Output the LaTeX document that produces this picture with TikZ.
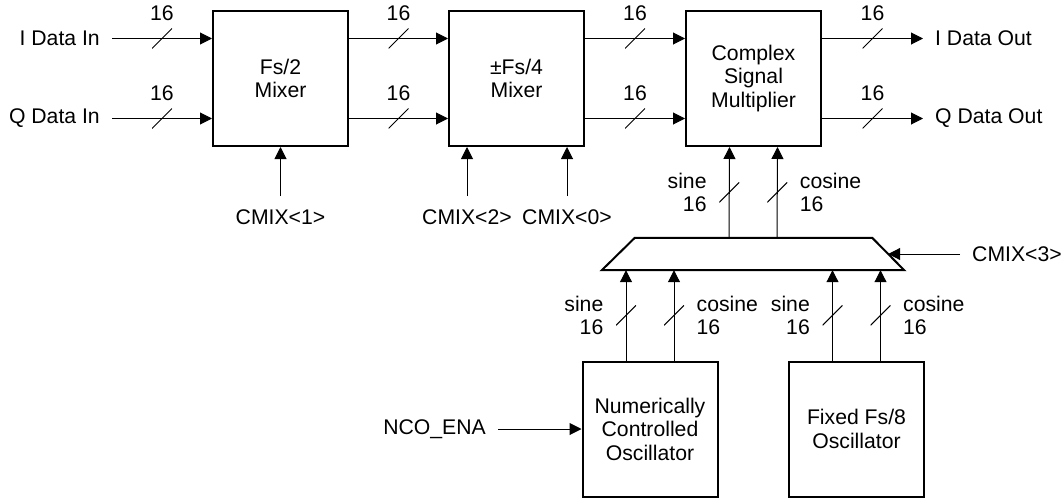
\documentclass[tikz,border=0pt]{standalone}
\usepackage{fontspec}
\setmainfont{Liberation Sans}
\usetikzlibrary{
  arrows.meta,
  positioning,
  calc
}

\begin{document}
\begin{tikzpicture}[
      x=1pt, y=-1pt,
      every node/.style={font=\fontsize{21.2}{23.5}\selectfont},
      bloco/.style={draw, line width=2pt, minimum width=135pt, minimum height=135pt, align=center, inner sep=0pt},
      caixa/.style={minimum width=302pt, minimum height=32pt, inner sep=0pt},
      borda/.style={line width=2pt},
      seta/.style={-{Triangle[length=12pt,width=12pt]}, line width=1pt},
      barra/.style={minimum size=20pt, inner sep=0pt, path picture={\draw[-, line width=1pt] (path picture bounding box.south west) -- (path picture bounding box.north east);}},
      rotulo/.style={inner sep=0pt}
  ]
      \useasboundingbox (0,0) rectangle (1063,498);

      % Blocos principais
      \node[bloco] (mix1) at (280.5,78.5) {Fs/2\\Mixer};
      \node[bloco] (mix2) at (516.5,78.5) {±Fs/4\\Mixer};
      \node[bloco] (csm) at (753.5,78.5) {Complex\\Signal\\Multiplier};
      \node[caixa] (sel) at (753,254) {};
      \draw[borda] (sel.south west) -- ([xshift=33pt]sel.north west) -- ([xshift=-32pt]sel.north east) -- (sel.south east) -- cycle;
      \node[bloco] (nco) at (650,429) {Numerically\\Controlled\\Oscillator};
      \node[bloco] (fix) at (856.5,429) {Fixed Fs/8\\Oscillator};

      % Pontas livres
      \coordinate (iin) at (112,38.5);
      \coordinate (qin) at (112,118.5);
      \coordinate (iout) at (923,38.5);
      \coordinate (qout) at (923,118.5);
      \coordinate (c1) at (280.5,196);
      \coordinate (c2) at (467,196);
      \coordinate (c0) at (567,196);
      \coordinate (c3) at (960,254);
      \coordinate (ena) at (498,429);

      \node[rotulo, left=12pt of iin] {I Data In};
      \node[rotulo, left=12pt of qin] {Q Data In};
      \node[rotulo, right=12pt of iout] {I Data Out};
      \node[rotulo, right=12pt of qout] {Q Data Out};
      \node[rotulo, below=13.5pt of c1] {CMIX<1>};
      \node[rotulo, below=13.5pt of c2] {CMIX<2>};
      \node[rotulo, below=13.5pt of c0] {CMIX<0>};
      \node[rotulo, right=12pt of c3] {CMIX<3>};
      \node[rotulo, left=12pt of ena] {NCO\_ENA};

      % Barramentos I/Q
      \draw[seta] (iin) -- node[barra] (b1) {} (iin -| mix1.west);
      \draw[seta] (qin) -- node[barra] (b2) {} (qin -| mix1.west);
      \draw[seta] ([yshift=40pt]mix1.east) -- node[barra] (b3) {} ([yshift=40pt]mix2.west);
      \draw[seta] ([yshift=-40pt]mix1.east) -- node[barra] (b4) {} ([yshift=-40pt]mix2.west);
      \draw[seta] ([yshift=40pt]mix2.east) -- node[barra] (b5) {} ([yshift=40pt]csm.west);
      \draw[seta] ([yshift=-40pt]mix2.east) -- node[barra] (b6) {} ([yshift=-40pt]csm.west);
      \draw[seta] (iout -| csm.east) -- node[barra] (b7) {} (iout);
      \draw[seta] (qout -| csm.east) -- node[barra] (b8) {} (qout);
      \foreach \b in {b1,b2,b3,b4,b5,b6,b7,b8}
          \node[rotulo, above=7pt of \b] {16};

      % Controle
      \draw[seta] (c1) -- (mix1.south);
      \draw[seta] (c2) -- (c2 |- mix2.south);
      \draw[seta] (c0) -- (c0 |- mix2.south);
      \draw[seta] (c3) -- ([xshift=-16pt]sel.east);
      \draw[seta] (ena) -- (nco.west);

      % Seno e cosseno
      \draw[seta] ([xshift=-24pt]sel.north) -- node[barra] (s1) {} ([xshift=-24pt]csm.south);
      \draw[seta] ([xshift=24pt]sel.north) -- node[barra] (k1) {} ([xshift=24pt]csm.south);
      \draw[seta] ([xshift=-24pt]nco.north) -- node[barra] (s2) {} ([xshift=-24pt]nco.north |- sel.south);
      \draw[seta] ([xshift=24pt]nco.north) -- node[barra] (k2) {} ([xshift=24pt]nco.north |- sel.south);
      \draw[seta] ([xshift=-24pt]fix.north) -- node[barra] (s3) {} ([xshift=-24pt]fix.north |- sel.south);
      \draw[seta] ([xshift=24pt]fix.north) -- node[barra] (k3) {} ([xshift=24pt]fix.north |- sel.south);
      \foreach \b in {s1,s2,s3}
          \node[rotulo, align=right, left=12pt of \b] {sine\\16};
      \foreach \b in {k1,k2,k3}
          \node[rotulo, align=left, right=12pt of \b] {cosine\\16};

  \end{tikzpicture}
\end{document}
